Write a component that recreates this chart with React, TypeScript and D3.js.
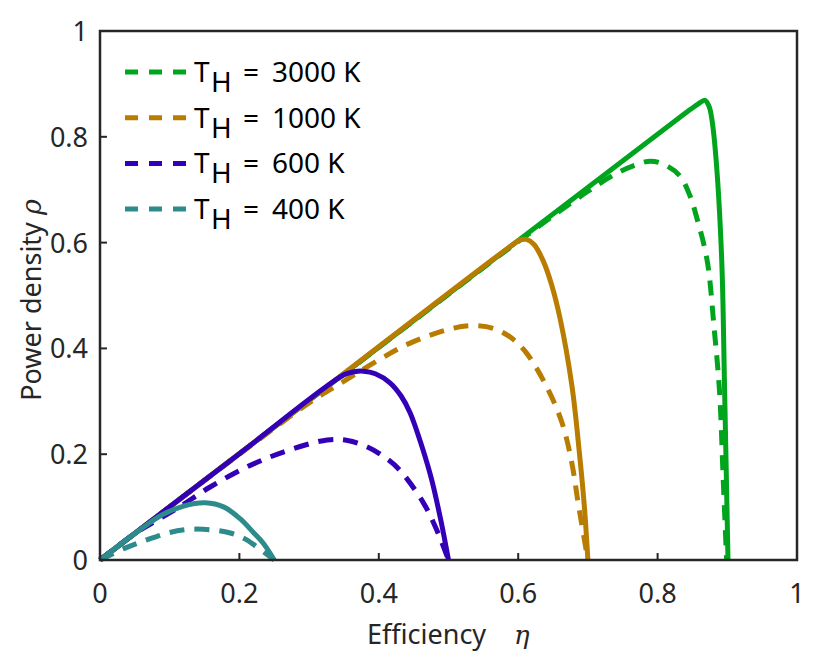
import React from 'react';
import * as d3 from 'd3';

// [efficiency, power density]
const solid3000: [number, number][] = [
  [0, 0], [0.4, 0.402], [0.84, 0.845], [0.858, 0.862], [0.868, 0.869], [0.874, 0.857],
  [0.878, 0.832], [0.884, 0.756], [0.892, 0.567], [0.896, 0.33], [0.901, 0],
];
const dashed3000: [number, number][] = [
  [0, 0], [0.4, 0.402], [0.6, 0.602], [0.7, 0.697], [0.74, 0.73], [0.765, 0.745], [0.79, 0.754],
  [0.812, 0.746], [0.832, 0.726], [0.846, 0.69], [0.856, 0.648], [0.871, 0.567],
  [0.881, 0.44], [0.889, 0.316], [0.894, 0.157], [0.899, 0],
];
const solid1000: [number, number][] = [
  [0, 0], [0.3, 0.302], [0.59, 0.594], [0.603, 0.605], [0.612, 0.606], [0.623, 0.596],
  [0.636, 0.565], [0.648, 0.52], [0.66, 0.457], [0.677, 0.33], [0.688, 0.2],
  [0.695, 0.1], [0.7, 0],
];
const dashed1000: [number, number][] = [
  [0, 0], [0.2, 0.2], [0.3, 0.297], [0.349, 0.337], [0.397, 0.376], [0.445, 0.41],
  [0.506, 0.438], [0.535, 0.443], [0.564, 0.438], [0.59, 0.42], [0.612, 0.391],
  [0.641, 0.327], [0.663, 0.259], [0.677, 0.183], [0.686, 0.108], [0.7, 0],
];
const solid600: [number, number][] = [
  [0, 0], [0.2, 0.201], [0.35, 0.35], [0.365, 0.356], [0.378, 0.357], [0.395, 0.352],
  [0.416, 0.335], [0.432, 0.31], [0.445, 0.278], [0.462, 0.214], [0.476, 0.151],
  [0.489, 0.075], [0.5, 0],
];
const dashed600: [number, number][] = [
  [0, 0], [0.05, 0.05], [0.11, 0.097], [0.158, 0.138], [0.211, 0.176], [0.263, 0.204],
  [0.326, 0.227], [0.355, 0.226], [0.383, 0.214], [0.41, 0.193], [0.43, 0.17],
  [0.464, 0.108], [0.483, 0.057], [0.5, 0],
];
const solid400: [number, number][] = [
  [0, 0], [0.057, 0.057], [0.09, 0.086], [0.12, 0.102], [0.151, 0.108], [0.178, 0.1],
  [0.201, 0.078], [0.22, 0.052], [0.234, 0.032], [0.25, 0],
];
const dashed400: [number, number][] = [
  [0, 0], [0.035, 0.022], [0.067, 0.038], [0.1, 0.052], [0.129, 0.058], [0.16, 0.057],
  [0.187, 0.051], [0.208, 0.04], [0.225, 0.025], [0.25, 0],
];

const temps = ['3000', '1000', '600', '400'];
const colors = ['#00a51d', '#b87c00', '#3300b8', '#2e8b8b'];
const solids = [solid3000, solid1000, solid600, solid400];
const dashes = [dashed3000, dashed1000, dashed600, dashed400];
const ticks = [0, 0.2, 0.4, 0.6, 0.8, 1];
const tickLabels = ['0', '0.2', '0.4', '0.6', '0.8', '1'];

const W = 830;
const H = 662;
const font = '"Noto Sans", "Open Sans", sans-serif';
const axisColor = '#262626';

export default function App() {
  const x = d3.scaleLinear().domain([0, 1]).range([100, 797]);
  const y = d3.scaleLinear().domain([0, 1]).range([560, 31]);
  const line = d3.line<[number, number]>()
    .x(d => x(d[0]))
    .y(d => y(d[1]))
    .curve(d3.curveCatmullRom.alpha(0.5));

  return (
    <svg width={W} height={H} style={{ position: 'absolute', left: 0, top: 0, background: '#fff' }}>
      {solids.map((s, i) => (
        <g key={temps[i]}>
          <path d={line(s) ?? ''} fill="none" stroke={colors[i]} strokeWidth={5} strokeLinejoin="round" />
          <path d={line(dashes[i]) ?? ''} fill="none" stroke={colors[i]} strokeWidth={5} strokeDasharray="15 10" />
        </g>
      ))}

      {/* axes box */}
      <rect x={x(0)} y={y(1)} width={x(1) - x(0)} height={y(0) - y(1)} fill="none" stroke={axisColor} strokeWidth={2.5} />
      {ticks.map((t, i) => (
        <g key={'t' + i} fontFamily={font} fontSize={27} fill={axisColor}>
          <line x1={x(t)} x2={x(t)} y1={y(0)} y2={y(0) - 7} stroke={axisColor} strokeWidth={2} />
          <line x1={x(0)} x2={x(0) + 7} y1={y(t)} y2={y(t)} stroke={axisColor} strokeWidth={2} />
          <text x={x(t)} y={603} textAnchor="middle">{tickLabels[i]}</text>
          <text x={88} y={y(t) + 10} textAnchor="end">{tickLabels[i]}</text>
        </g>
      ))}

      <text x={367} y={644} fontFamily={font} fontSize={27} fill={axisColor}>
        Efficiency
      </text>
      <text x={514} y={644} fontFamily="'DejaVu Serif', serif" fontStyle="italic" fontSize={26} fill={axisColor}>η</text>
      <text transform="translate(41,300) rotate(-90)" textAnchor="middle" fontFamily={font} fontSize={27} fill={axisColor}>
        Power density{'\u00a0'}
        <tspan fontFamily="'DejaVu Serif', serif" fontStyle="italic">ρ</tspan>
      </text>

      {/* legend */}
      {temps.map((t, i) => {
        const ly = 72 + i * 45.7;
        return (
          <g key={'l' + t} fontFamily={font} fontSize={28} fill="#000">
            <line x1={125} x2={187} y1={ly} y2={ly} stroke={colors[i]} strokeWidth={5} strokeDasharray="13 11" />
            <text x={194} y={ly + 10}>T</text>
            <text x={211} y={ly + 20}>H</text>
            <text x={243} y={ly + 10}>=</text>
            <text x={272} y={ly + 10}>{`${t} K`}</text>
          </g>
        );
      })}
    </svg>
  );
}
